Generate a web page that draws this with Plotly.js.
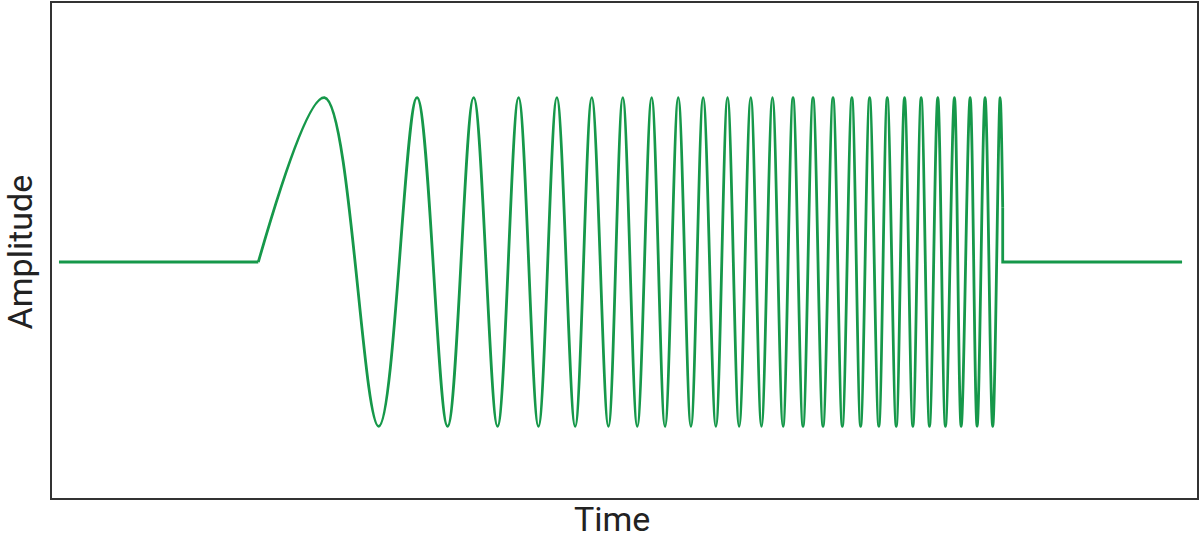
<!DOCTYPE html>
<html>
<head>
<meta charset="utf-8">
<script src="https://cdn.plot.ly/plotly-3.0.1.min.js"></script>
<style>html,body{margin:0;padding:0;background:#fff;}#chart{width:1200px;height:540px;}</style>
</head>
<body>
<div id="chart"></div>
<script>
// Time axis (arbitrary units)
const signalStart = 0.0;
const signalEnd = 10.0;
const chirpStart = 1.775;
const chirpEnd = 8.403;
const chirpEndValue = 0.33;

// times of the crests (value +1) and troughs (value -1) of the chirp
const peakTimes = [2.364, 3.188, 3.692, 4.092, 4.433, 4.744, 5.020, 5.277, 5.514, 5.736,
  5.953, 6.160, 6.353, 6.536, 6.714, 6.892, 7.060, 7.218, 7.375, 7.529, 7.677, 7.825,
  7.973, 8.113, 8.246, 8.380];
const troughTimes = [2.847, 3.460, 3.905, 4.269, 4.596, 4.892, 5.149, 5.396, 5.627, 5.849,
  6.056, 6.255, 6.447, 6.625, 6.803, 6.975, 7.138, 7.300, 7.455, 7.603, 7.751, 7.893,
  8.033, 8.175, 8.314];
const peakValue = 1;
const troughValue = -1;
const baselineValue = 0;

const xTitle = "Time";
const yTitle = "Amplitude";

// build chirp trace from readings
const ext = peakTimes.map(t => [t, peakValue]).concat(troughTimes.map(t => [t, troughValue]));
ext.sort((a, b) => a[0] - b[0]);
const chirpX = [chirpStart].concat(ext.map(e => e[0]), [chirpEnd]);
const chirpY = [baselineValue].concat(ext.map(e => e[1]), [chirpEndValue]);

const green = "rgb(22,152,74)";
const lw = 2.8;

const traces = [
  {x: [signalStart, chirpStart], y: [baselineValue, baselineValue], mode: "lines",
   line: {color: green, width: lw}, hoverinfo: "skip"},
  {x: chirpX, y: chirpY, mode: "lines",
   line: {color: green, width: lw, shape: "spline", smoothing: 1}, hoverinfo: "skip"},
  {x: [chirpEnd, chirpEnd, signalEnd], y: [chirpEndValue, baselineValue, baselineValue], mode: "lines",
   line: {color: green, width: lw}, hoverinfo: "skip"}
];

const titleFont = {family: "Roboto, 'Open Sans', sans-serif", size: 34, color: "#222"};

const layout = {
  width: 1200, height: 540,
  margin: {l: 52, r: 3, t: 3, b: 42},
  paper_bgcolor: "#fff", plot_bgcolor: "#fff",
  showlegend: false,
  font: {family: "Roboto, 'Open Sans', sans-serif", color: "#222"},
  xaxis: {
    range: [-0.0622, 10.133], showgrid: false, zeroline: false, showticklabels: false, ticks: "",
    showline: true, mirror: true, linecolor: "#333", linewidth: 2
  },
  yaxis: {
    range: [-1.436, 1.576], showgrid: false, zeroline: false, showticklabels: false, ticks: "",
    showline: true, mirror: true, linecolor: "#333", linewidth: 2
  },
  annotations: [
    {text: xTitle, xref: "paper", yref: "paper", x: (612 - 52) / 1145, y: -0.0415,
     xanchor: "center", yanchor: "middle", showarrow: false, font: titleFont},
    {text: yTitle, xref: "paper", yref: "paper", x: -0.0271, y: 0.498, textangle: -90,
     xanchor: "center", yanchor: "middle", showarrow: false, font: titleFont}
  ]
};

Plotly.newPlot("chart", traces, layout, {displayModeBar: false, staticPlot: true});
</script>
</body>
</html>
